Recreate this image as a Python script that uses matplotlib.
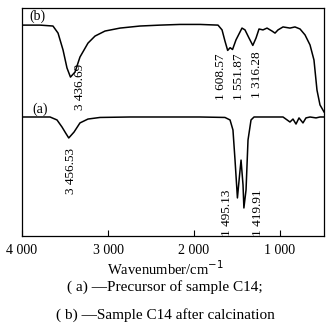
import matplotlib.pyplot as plt

plt.rcParams['font.family'] = ['Liberation Serif', 'DejaVu Serif']

# FTIR spectrum (b): sample C14 after calcination
wn_b = [4000, 3790, 3640, 3581, 3523, 3477, 3436.69, 3384, 3326, 3233, 3151, 3035,
        2860, 2628, 2395, 2163, 1930, 1721, 1674, 1640, 1608.57, 1580, 1551.87, 1512,
        1442, 1407, 1360, 1316.28, 1279, 1244, 1198, 1151, 1093, 1058, 1023, 965,
        884, 826, 767, 709, 651, 605, 570, 535, 488]
t_b = [92.5, 92.5, 92.1, 89.0, 81.6, 73.7, 69.7, 71.9, 78.5, 84.6, 87.7, 89.9,
       91.2, 92.1, 92.5, 92.8, 92.8, 92.5, 90.4, 85.5, 81.4, 82.6, 81.8, 86.0,
       91.2, 90.4, 86.8, 83.6, 86.8, 90.8, 90.4, 91.2, 89.9, 89.0, 90.4, 91.7,
       91.2, 91.7, 90.8, 88.2, 83.8, 77.2, 64.0, 57.5, 54.4]

# FTIR spectrum (a): precursor of sample C14
wn_a = [4000, 3674, 3593, 3535, 3490, 3456.53, 3395, 3326, 3233, 3093, 2744, 1930,
        1640, 1581, 1547, 1523, 1495.13, 1470, 1453, 1430, 1419.91, 1395, 1372, 1337,
        1302, 1174, 965, 884, 849, 814, 779, 733, 698, 651, 581, 535, 488]
t_a = [52.2, 52.2, 50.9, 47.8, 45.0, 43.0, 45.6, 49.6, 51.3, 52.0, 52.2, 52.2,
       52.0, 50.9, 46.5, 33.3, 16.7, 26.8, 33.3, 22.4, 12.3, 20.2, 42.1, 50.9,
       52.2, 52.2, 52.2, 50.0, 51.3, 49.1, 51.8, 49.6, 51.8, 52.2, 51.8, 52.2, 52.2]

peaks_b = [3436.69, 1608.57, 1551.87, 1316.28]
peaks_a = [3456.53, 1495.13, 1419.91]
xticks = [4000, 3000, 2000, 1000]
xtick_labels = ["4 000", "3 000", "2 000", "1 000"]


def fmt(v):
    s = "%.2f" % v
    return s[0] + " " + s[1:]


fig = plt.figure(figsize=(3.32, 3.34), dpi=100)
ax = fig.add_axes([0.0663, 0.2934, 0.9097, 0.6826])

ax.plot(wn_b, t_b, color='black', lw=1.1)
ax.plot(wn_a, t_a, color='black', lw=1.1)

ax.set_xlim(4000, 488)
ax.set_ylim(0, 100)
ax.set_yticks([])
ax.set_xticks(xticks)
ax.set_xticklabels(xtick_labels, fontsize=10)
ax.tick_params(axis='x', direction='in', length=4, width=0.8, pad=6)
for s in ax.spines.values():
    s.set_linewidth(0.9)

ax.text(3826, 96.5, "(b)", fontsize=10, ha='center', va='center')
ax.text(3791, 55.7, "(a)", fontsize=10, ha='center', va='center')

# peak labels, vertical text (offsets in points, bottom y in data units)
dx_b = [6.9, -4.8, 4.6, 2.9]
y_b = [55.3, 59.6, 59.6, 60.5]
for p, dx, y in zip(peaks_b, dx_b, y_b):
    ax.annotate(fmt(p), xy=(p, y), xytext=(dx, 0), textcoords='offset points',
                rotation=90, ha='center', va='bottom', fontsize=9.5)

dx_a = [1.5, -7.2, 10.0]
y_a = [18.4, 0.0, 0.0]
for p, dx, y in zip(peaks_a, dx_a, y_a):
    ax.annotate(fmt(p), xy=(p, y), xytext=(dx, 0), textcoords='offset points',
                rotation=90, ha='center', va='bottom', fontsize=9.5)

fig.text(0.497, 1 - 269 / 334, "Wavenumber/cm$^{-1}$", fontsize=10.5,
         ha='center', va='center')
fig.text(0.497, 1 - 287 / 334, "( a) \u2014Precursor of sample C14;", fontsize=11,
         ha='center', va='center')
fig.text(0.497, 1 - 315 / 334, "( b) \u2014Sample C14 after calcination", fontsize=11,
         ha='center', va='center')

fig.savefig("out.png", dpi=100)
